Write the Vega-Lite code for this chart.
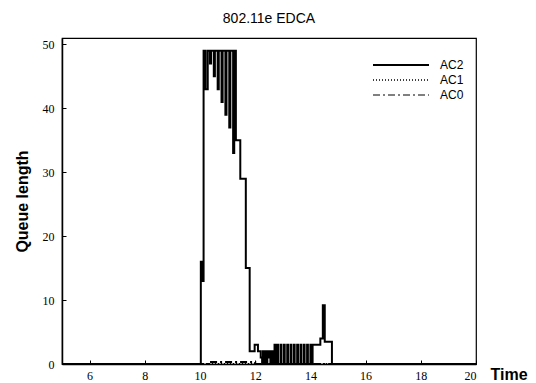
{
  "$schema": "https://vega.github.io/schema/vega-lite/v6.json",
  "width": 414,
  "height": 326,
  "autosize": "none",
  "padding": {"left": 62, "top": 38, "right": 60, "bottom": 19},
  "background": "white",
  "config": {
    "view": {"stroke": "black", "strokeWidth": 1.2},
    "font": "Liberation Sans"
  },
  "title": {"text": "802.11e EDCA", "fontSize": 14, "fontWeight": "normal", "font": "Liberation Sans", "offset": 12, "color": "black"},
  "data": {"values": [
    {"t": 5, "q": 0, "s": "AC2"},
    {"t": 10.03, "q": 16, "s": "AC2"},
    {"t": 10.07, "q": 13, "s": "AC2"},
    {"t": 10.13, "q": 49, "s": "AC2"},
    {"t": 10.2, "q": 43, "s": "AC2"},
    {"t": 10.28, "q": 49, "s": "AC2"},
    {"t": 10.36, "q": 47, "s": "AC2"},
    {"t": 10.4, "q": 49, "s": "AC2"},
    {"t": 10.5, "q": 45, "s": "AC2"},
    {"t": 10.54, "q": 49, "s": "AC2"},
    {"t": 10.64, "q": 43, "s": "AC2"},
    {"t": 10.68, "q": 49, "s": "AC2"},
    {"t": 10.78, "q": 41, "s": "AC2"},
    {"t": 10.82, "q": 49, "s": "AC2"},
    {"t": 10.92, "q": 39, "s": "AC2"},
    {"t": 10.96, "q": 49, "s": "AC2"},
    {"t": 11.06, "q": 37, "s": "AC2"},
    {"t": 11.1, "q": 49, "s": "AC2"},
    {"t": 11.2, "q": 33, "s": "AC2"},
    {"t": 11.24, "q": 49, "s": "AC2"},
    {"t": 11.3, "q": 35, "s": "AC2"},
    {"t": 11.46, "q": 29, "s": "AC2"},
    {"t": 11.66, "q": 15, "s": "AC2"},
    {"t": 11.8, "q": 2, "s": "AC2"},
    {"t": 11.98, "q": 3, "s": "AC2"},
    {"t": 12.1, "q": 2, "s": "AC2"},
    {"t": 12.2, "q": 1, "s": "AC2"},
    {"t": 12.25, "q": 0, "s": "AC2"},
    {"t": 12.28, "q": 2, "s": "AC2"},
    {"t": 12.31, "q": 0, "s": "AC2"},
    {"t": 12.36, "q": 2, "s": "AC2"},
    {"t": 12.39, "q": 0, "s": "AC2"},
    {"t": 12.44, "q": 2, "s": "AC2"},
    {"t": 12.47, "q": 1, "s": "AC2"},
    {"t": 12.52, "q": 2, "s": "AC2"},
    {"t": 12.55, "q": 0, "s": "AC2"},
    {"t": 12.6, "q": 2, "s": "AC2"},
    {"t": 12.63, "q": 0, "s": "AC2"},
    {"t": 12.7, "q": 3, "s": "AC2"},
    {"t": 12.73, "q": 0, "s": "AC2"},
    {"t": 12.8, "q": 3, "s": "AC2"},
    {"t": 12.83, "q": 0, "s": "AC2"},
    {"t": 12.92, "q": 3, "s": "AC2"},
    {"t": 12.95, "q": 0, "s": "AC2"},
    {"t": 13.04, "q": 3, "s": "AC2"},
    {"t": 13.07, "q": 0, "s": "AC2"},
    {"t": 13.16, "q": 3, "s": "AC2"},
    {"t": 13.19, "q": 0, "s": "AC2"},
    {"t": 13.28, "q": 3, "s": "AC2"},
    {"t": 13.31, "q": 0, "s": "AC2"},
    {"t": 13.4, "q": 3, "s": "AC2"},
    {"t": 13.43, "q": 0, "s": "AC2"},
    {"t": 13.52, "q": 3, "s": "AC2"},
    {"t": 13.55, "q": 0, "s": "AC2"},
    {"t": 13.64, "q": 3, "s": "AC2"},
    {"t": 13.67, "q": 0, "s": "AC2"},
    {"t": 13.76, "q": 3, "s": "AC2"},
    {"t": 13.79, "q": 0, "s": "AC2"},
    {"t": 13.88, "q": 3, "s": "AC2"},
    {"t": 13.91, "q": 0, "s": "AC2"},
    {"t": 14.0, "q": 3, "s": "AC2"},
    {"t": 14.03, "q": 0, "s": "AC2"},
    {"t": 14.08, "q": 3, "s": "AC2"},
    {"t": 14.36, "q": 4, "s": "AC2"},
    {"t": 14.45, "q": 9.2, "s": "AC2"},
    {"t": 14.52, "q": 3.5, "s": "AC2"},
    {"t": 14.78, "q": 0, "s": "AC2"},
    {"t": 20, "q": 0, "s": "AC2"},
    {"t": 5, "q": 0, "s": "AC1"},
    {"t": 20, "q": 0, "s": "AC1"},
    {"t": 5, "q": 0, "s": "AC0"},
    {"t": 10.4, "q": 0.3, "s": "AC0"},
    {"t": 12.0, "q": 0, "s": "AC0"},
    {"t": 20, "q": 0, "s": "AC0"}
  ]},
  "mark": {"type": "line", "interpolate": "step-after", "color": "black", "strokeWidth": 2, "clip": true},
  "encoding": {
    "x": {"field": "t", "type": "quantitative",
      "scale": {"domain": [5, 20], "nice": false, "zero": false},
      "axis": {"values": [6, 8, 10, 12, 14, 16, 18, 20], "grid": false, "tickSize": -4, "tickColor": "black", "domainColor": "black", "domainWidth": 1.5,
        "labelFont": "Liberation Sans Narrow", "labelFontSize": 12, "labelColor": "black", "labelPadding": 10,
        "title": "Time", "titleFont": "Liberation Sans", "titleFontSize": 16, "titleFontWeight": "bold", "titleColor": "black",
        "titleAnchor": "start", "titleX": 428, "titleY": 15, "titleAlign": "left", "titleBaseline": "alphabetic"}},
    "y": {"field": "q", "type": "quantitative",
      "scale": {"domain": [0, 51], "nice": false},
      "axis": {"values": [0, 10, 20, 30, 40, 50], "grid": false, "tickSize": -4, "tickColor": "black", "domainColor": "black", "domainWidth": 1.5,
        "labelFont": "Liberation Sans Narrow", "labelFontSize": 12, "labelColor": "black", "labelPadding": 12,
        "title": "Queue length", "titleFont": "Liberation Sans", "titleFontSize": 16, "titleFontWeight": "bold", "titleColor": "black",
        "titleX": -40, "titleY": 163, "titleAngle": 270, "titleBaseline": "middle"}},
    "strokeDash": {"field": "s", "type": "nominal",
      "scale": {"domain": ["AC2", "AC1", "AC0"], "range": [[1, 0], [1, 2], [7, 3, 2, 3]]},
      "legend": {"title": null, "orient": "none", "legendX": 333, "legendY": 21, "symbolType": "M-8,0H8", "symbolSize": 49,
        "symbolStrokeColor": "black", "symbolFillColor": "transparent", "symbolStrokeWidth": 2, "labelFont": "Liberation Sans", "labelFontSize": 12, "labelColor": "black",
        "labelOffset": 33, "rowPadding": 3}},
    "strokeWidth": {"field": "s", "type": "nominal", "scale": {"domain": ["AC2", "AC1", "AC0"], "range": [2, 1, 2]}, "legend": null}
  }
}
